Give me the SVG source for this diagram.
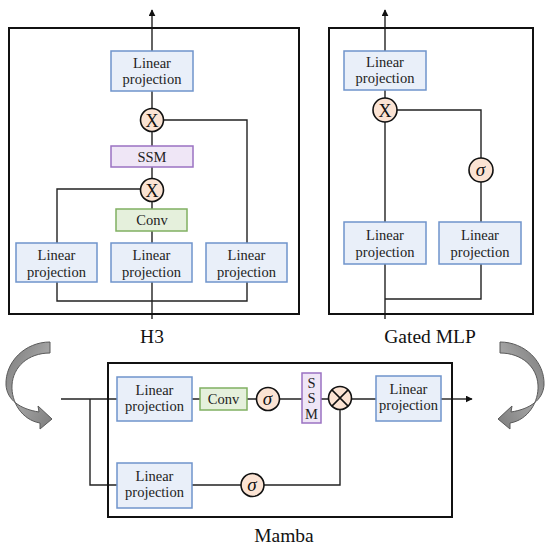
<svg xmlns="http://www.w3.org/2000/svg" width="550" height="550" viewBox="0 0 550 550">
<style>
  .panel { fill: none; stroke: #111; stroke-width: 2; }
  .lp { fill: #e9eff9; stroke: #6f94cb; stroke-width: 1.5; }
  .ssm { fill: #efe6f6; stroke: #9b72c2; stroke-width: 1.5; }
  .conv { fill: #e5f0dc; stroke: #80b062; stroke-width: 1.5; }
  .op { fill: #fbe3d3; stroke: #111; stroke-width: 1.6; }
  .wire { fill: none; stroke: #222; stroke-width: 1.4; }
  .t { font-family: "Liberation Serif", "Times New Roman", serif; font-size: 14.5px; fill: #222; text-anchor: middle; }
  .lbl { font-family: "Liberation Serif", "Times New Roman", serif; font-size: 19.5px; fill: #111; text-anchor: middle; }
  .x { font-family: "Liberation Serif", serif; font-size: 18px; fill: #111; text-anchor: middle; }
  .sig { font-family: "Liberation Serif", serif; font-size: 19px; font-style: italic; fill: #111; text-anchor: middle; }
  .curl { fill: url(#g); stroke: #5a5a5a; stroke-width: 1; }
</style>
<defs>
  <marker id="ah" viewBox="0 0 10 10" refX="9" refY="5" markerWidth="7" markerHeight="7" markerUnits="userSpaceOnUse" orient="auto">
    <path d="M0,0 L10,5 L0,10 Z" fill="#111"/>
  </marker>
  <linearGradient id="g" x1="0" y1="0" x2="1" y2="1">
    <stop offset="0" stop-color="#7a7a7a"/>
    <stop offset="0.5" stop-color="#a3a3a3"/>
    <stop offset="1" stop-color="#7d7d7d"/>
  </linearGradient>
</defs>

<g id="connectors">
  <path class="wire" d="M152,319 V10" marker-end="url(#ah)"/>
  <path class="wire" d="M57,282 V301 H247 V282"/>
  <path class="wire" d="M57,243 V189 H141"/>
  <path class="wire" d="M247,243 V120 H163"/>
  <path class="wire" d="M385,319 V10" marker-end="url(#ah)"/>
  <path class="wire" d="M385,299 H481 V264"/>
  <path class="wire" d="M481,222 V110 H397"/>
  <path class="wire" d="M61,399 H117"/>
  <path class="wire" d="M90,399 V485 H117"/>
  <path class="wire" d="M192,399 H376"/>
  <path class="wire" d="M441,399 H472" marker-end="url(#ah)"/>
  <path class="wire" d="M192,485 H340 V410"/>
</g>

<g id="h3-panel">
  <rect class="panel" x="9" y="28" width="290" height="286"/>
  <text class="lbl" x="152" y="343">H3</text>
</g>
<g id="h3-lp-top">
  <rect class="lp" x="111" y="51" width="82" height="40"/>
  <text class="t" x="152" y="68">Linear</text>
  <text class="t" x="152" y="84">projection</text>
</g>
<g id="h3-mul-top">
  <circle class="op" cx="152" cy="120" r="11.5"/>
  <text class="x" x="152" y="126.5">X</text>
</g>
<g id="h3-ssm">
  <rect class="ssm" x="111" y="146" width="82" height="21"/>
  <text class="t" x="152" y="161.5">SSM</text>
</g>
<g id="h3-mul-bot">
  <circle class="op" cx="152" cy="190" r="11.5"/>
  <text class="x" x="152" y="196.5">X</text>
</g>
<g id="h3-conv">
  <rect class="conv" x="116" y="209" width="71" height="22"/>
  <text class="t" x="152" y="225">Conv</text>
</g>
<g id="h3-lp-left">
  <rect class="lp" x="16" y="243" width="81" height="39"/>
  <text class="t" x="56.5" y="260">Linear</text>
  <text class="t" x="56.5" y="277">projection</text>
</g>
<g id="h3-lp-mid">
  <rect class="lp" x="111" y="243" width="81" height="39"/>
  <text class="t" x="151.5" y="260">Linear</text>
  <text class="t" x="151.5" y="277">projection</text>
</g>
<g id="h3-lp-right">
  <rect class="lp" x="206" y="243" width="81" height="39"/>
  <text class="t" x="246.5" y="260">Linear</text>
  <text class="t" x="246.5" y="277">projection</text>
</g>

<g id="gmlp-panel">
  <rect class="panel" x="329" y="28" width="204" height="286"/>
  <text class="lbl" x="430" y="343">Gated MLP</text>
</g>
<g id="gmlp-lp-top">
  <rect class="lp" x="344" y="51" width="82" height="39"/>
  <text class="t" x="385" y="67">Linear</text>
  <text class="t" x="385" y="83">projection</text>
</g>
<g id="gmlp-mul">
  <circle class="op" cx="385" cy="110" r="12"/>
  <text class="x" x="385" y="116.5">X</text>
</g>
<g id="gmlp-sigma">
  <circle class="op" cx="481" cy="170" r="12"/>
  <text class="sig" x="480.5" y="176">σ</text>
</g>
<g id="gmlp-lp-left">
  <rect class="lp" x="344" y="222" width="82" height="42"/>
  <text class="t" x="385" y="240">Linear</text>
  <text class="t" x="385" y="257">projection</text>
</g>
<g id="gmlp-lp-right">
  <rect class="lp" x="439" y="222" width="82" height="42"/>
  <text class="t" x="480" y="240">Linear</text>
  <text class="t" x="480" y="257">projection</text>
</g>

<g id="mamba-panel">
  <rect class="panel" x="108" y="363" width="344" height="154"/>
  <text class="lbl" x="284" y="542">Mamba</text>
</g>
<g id="mamba-lp-top">
  <rect class="lp" x="117" y="377" width="75" height="44"/>
  <text class="t" x="154.5" y="395">Linear</text>
  <text class="t" x="154.5" y="411">projection</text>
</g>
<g id="mamba-conv">
  <rect class="conv" x="200" y="388" width="47" height="22"/>
  <text class="t" x="223.5" y="404">Conv</text>
</g>
<g id="mamba-sigma-top">
  <circle class="op" cx="268" cy="399" r="11.5"/>
  <text class="sig" x="267.5" y="405">σ</text>
</g>
<g id="mamba-ssm">
  <rect class="ssm" x="302" y="373" width="19" height="50"/>
  <text class="t" x="311.5" y="388">S</text>
  <text class="t" x="311.5" y="403">S</text>
  <text class="t" x="311.5" y="419">M</text>
</g>
<g id="mamba-mul">
  <circle class="op" cx="340" cy="398" r="11.5"/>
  <path d="M331.9,389.9 L348.1,406.1 M348.1,389.9 L331.9,406.1" stroke="#111" stroke-width="1.5"/>
</g>
<g id="mamba-lp-out">
  <rect class="lp" x="376" y="376" width="65" height="45"/>
  <text class="t" x="408.5" y="394">Linear</text>
  <text class="t" x="408.5" y="410">projection</text>
</g>
<g id="mamba-lp-bot">
  <rect class="lp" x="117" y="463" width="75" height="45"/>
  <text class="t" x="154.5" y="481">Linear</text>
  <text class="t" x="154.5" y="497">projection</text>
</g>
<g id="mamba-sigma-bot">
  <circle class="op" cx="252.5" cy="485" r="11.5"/>
  <text class="sig" x="252" y="491">σ</text>
</g>

<g id="curl-left">
  <path class="curl" d="M50,342 C25,342 5,362 6,385 C7,400 20,409 39,412 L38,406 L52,419 L40,429 L40,423 C22,420 11,402 12,385 C13,367 28,353 50,353 Z"/>
</g>
<g id="curl-right">
  <path class="curl" transform="translate(550,0) scale(-1,1)" d="M50,342 C25,342 5,362 6,385 C7,400 20,409 39,412 L38,406 L52,419 L40,429 L40,423 C22,420 11,402 12,385 C13,367 28,353 50,353 Z"/>
</g>
</svg>
